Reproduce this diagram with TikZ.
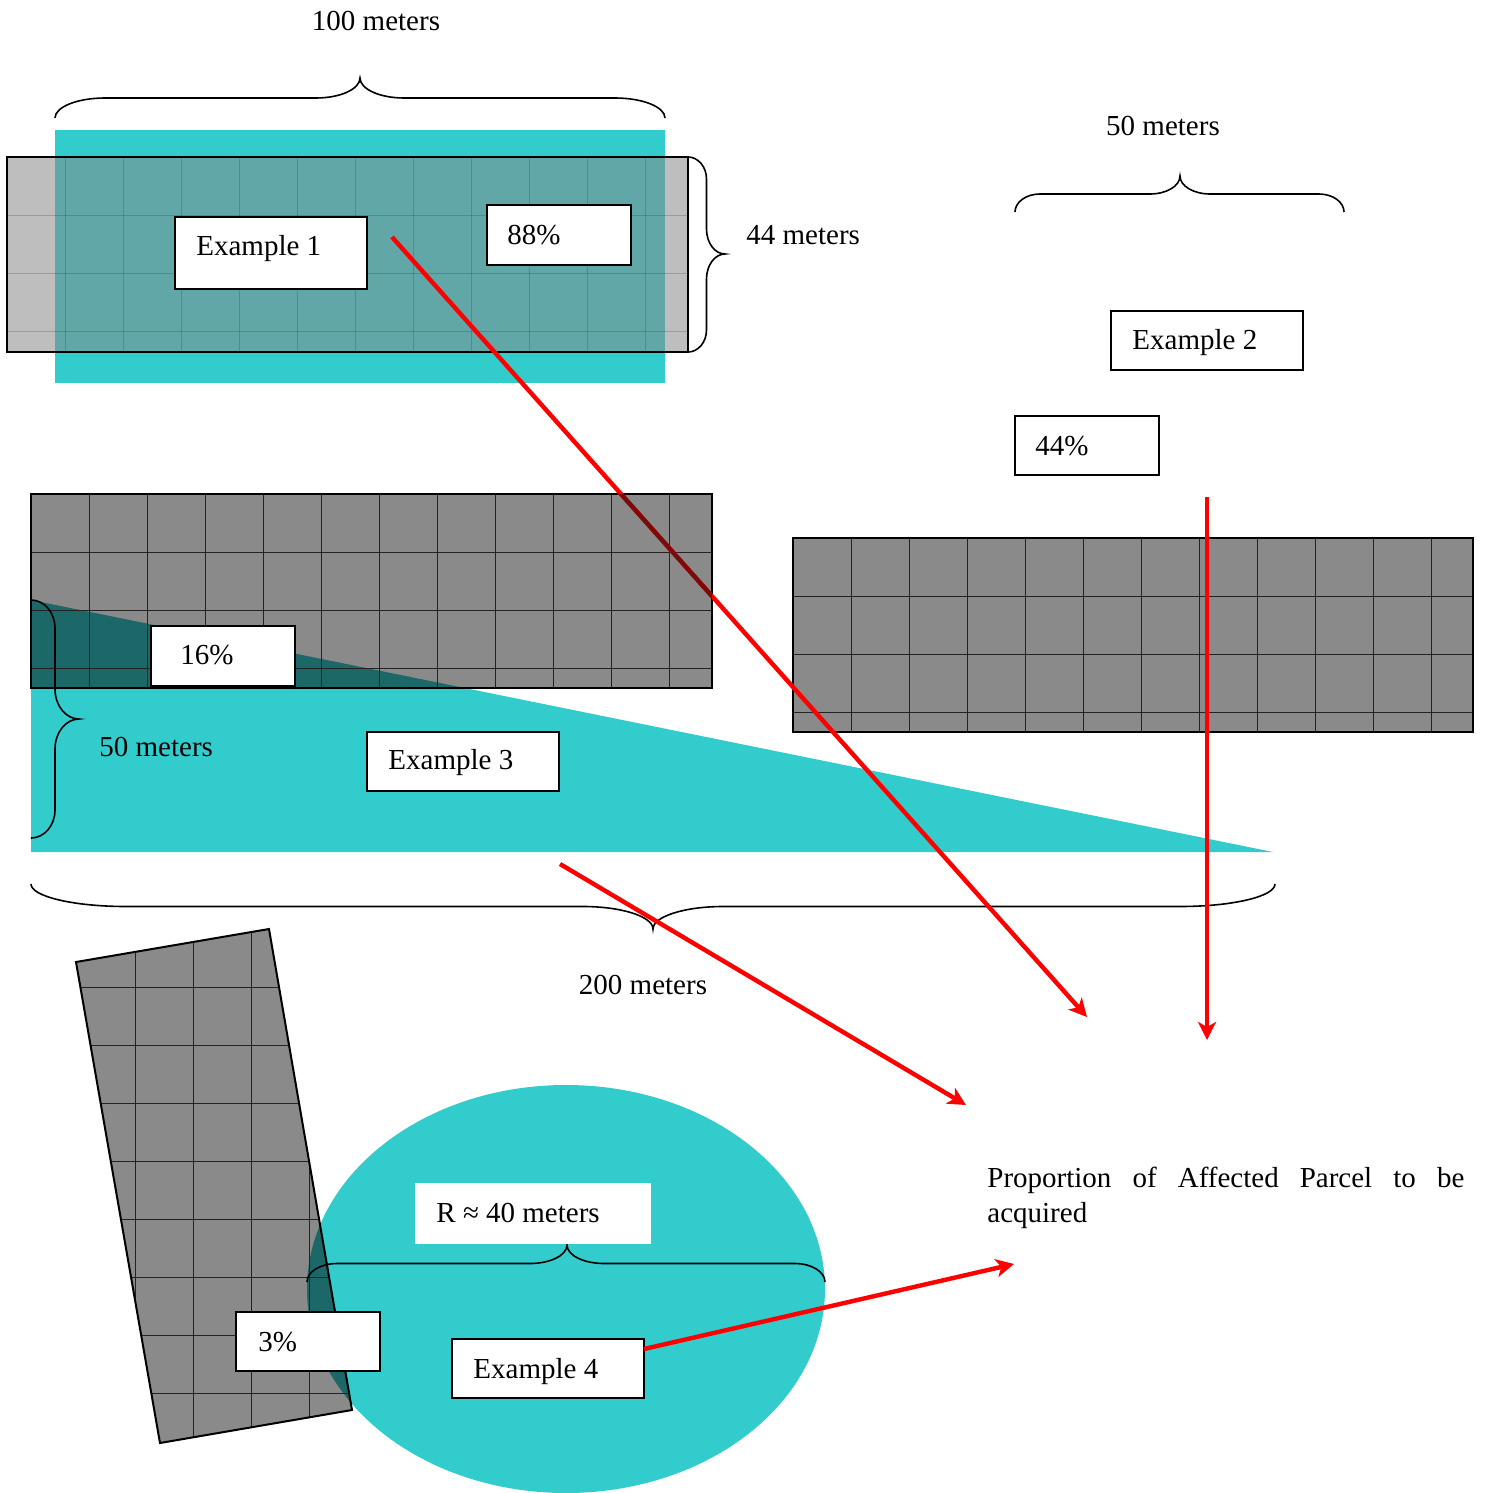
\documentclass[tikz,border=0pt]{standalone}
\usepackage{fontspec}
\setmainfont{Liberation Serif}
\usetikzlibrary{arrows.meta}
\definecolor{tealfill}{RGB}{51,204,204}
\definecolor{darkteal}{RGB}{28,104,104}
\definecolor{parcelgray}{RGB}{138,138,138}
\definecolor{gridc}{RGB}{35,35,35}
\definecolor{darkred}{RGB}{125,10,10}

\newcommand{\hbr}[7]{% x1, x2, y ends, y tip, x tip, end width, tip width
 \draw[bracel] (#1,#3) .. controls (#1,{#3+0.552*(#4-#3)/2}) and ({#1+0.448*#6},{(#3+#4)/2}) .. ({#1+#6},{(#3+#4)/2})
  -- ({#5-#7},{(#3+#4)/2}) .. controls ({#5-0.448*#7},{(#3+#4)/2}) and (#5,{#4-0.552*(#4-#3)/2}) .. (#5,#4)
  .. controls (#5,{#4-0.552*(#4-#3)/2}) and ({#5+0.448*#7},{(#3+#4)/2}) .. ({#5+#7},{(#3+#4)/2})
  -- ({#2-#6},{(#3+#4)/2}) .. controls ({#2-0.448*#6},{(#3+#4)/2}) and (#2,{#3+0.552*(#4-#3)/2}) .. (#2,#3);}
\newcommand{\vbr}[7]{% y1, y2, x ends, x tip, y tip, end width, tip width
 \draw[bracel] (#3,#1) .. controls ({#3+0.552*(#4-#3)/2},#1) and ({(#3+#4)/2},{#1+0.448*#6}) .. ({(#3+#4)/2},{#1+#6})
  -- ({(#3+#4)/2},{#5-#7}) .. controls ({(#3+#4)/2},{#5-0.448*#7}) and ({#4-0.552*(#4-#3)/2},#5) .. (#4,#5)
  .. controls ({#4-0.552*(#4-#3)/2},#5) and ({(#3+#4)/2},{#5+0.448*#7}) .. ({(#3+#4)/2},{#5+#7})
  -- ({(#3+#4)/2},{#2-#6}) .. controls ({(#3+#4)/2},{#2-0.448*#6}) and ({#3+0.552*(#4-#3)/2},#2) .. (#3,#2);}
\newcommand{\mkbox}[6][pbox]{\node[#1, minimum width={(#5-#3)*0.5pt}, minimum height={(#6-#4)*0.5pt}] (#2) at ({(#3+#5)/2},{(#4+#6)/2}) {};}

\begin{document}
\begin{tikzpicture}[x=0.5pt,y=-0.5pt,
  pbox/.style={draw=black, fill=white, line width=1.1pt, inner sep=0pt, outer sep=0pt},
  wbox/.style={fill=white, inner sep=0pt, outer sep=0pt},
  lbl/.style={inner sep=0pt, anchor=base west, font=\fontsize{14.5}{17.5}\selectfont},
  ctr/.style={inner sep=0pt, anchor=base, font=\fontsize{14.5}{17.5}\selectfont},
  gridl/.style={draw=gridc, line width=0.4pt},
  parcelb/.style={draw=black, line width=1pt},
  bracel/.style={draw=black, line width=0.8pt},
  redarrow/.style={draw=red, line width=2.2pt, -{Stealth[length=9pt,width=9pt,inset=2.5pt]}}]
\path[use as bounding box, fill=white] (0,0) rectangle (1488,1493);

% ---------- Example 1 ----------
\fill[tealfill] (55,130) rectangle (665,383);
\begin{scope}
  \clip (7,157) rectangle (688,352);
  \fill[parcelgray, fill opacity=0.55] (7,157) rectangle (688,352);
  \foreach \x in {65,123,...,645} \draw[gridl, draw opacity=0.22] (\x,157) -- (\x,352);
  \foreach \y in {215,273,331} \draw[gridl, draw opacity=0.22] (7,\y) -- (688,\y);
\end{scope}
\draw[parcelb] (7,157) rectangle (688,352);

% ---------- Example 2 ----------
\fill[parcelgray] (793,538) rectangle (1473,732);
\begin{scope}
  \clip (793,538) rectangle (1473,732);
  \foreach \x in {851,909,...,1431} \draw[gridl] (\x,538) -- (\x,732);
  \foreach \y in {596,654,712} \draw[gridl] (793,\y) -- (1473,\y);
\end{scope}
\draw[parcelb] (793,538) rectangle (1473,732);

% ---------- Example 3 ----------
\fill[tealfill] (31,600) -- (31,852) -- (1273,852) -- cycle;
\fill[parcelgray] (31,494) rectangle (712,688);
\begin{scope}
  \clip (31,494) rectangle (712,688);
  \fill[darkteal] (31,600) -- (31,852) -- (1273,852) -- cycle;
  \foreach \x in {89,147,...,671} \draw[gridl] (\x,494) -- (\x,688);
  \foreach \y in {552,610,668} \draw[gridl] (31,\y) -- (712,\y);
\end{scope}
\draw[parcelb] (31,494) rectangle (712,688);

% ---------- Example 4 ----------
\fill[tealfill] (566,1289) ellipse [x radius=129.5pt, y radius=102pt];
\fill[parcelgray] (76,962) -- (269,929) -- (352,1410) -- (160,1443) -- cycle;
\begin{scope}
  \clip (76,962) -- (269,929) -- (352,1410) -- (160,1443) -- cycle;
  \fill[darkteal] (566,1289) ellipse [x radius=129.5pt, y radius=102pt];
  \foreach \x in {135,193,251,309} \draw[gridl] (\x,900) -- (\x,1460);
  \foreach \y in {987,1045,...,1393} \draw[gridl] (60,\y) -- (370,\y);
\end{scope}
\draw[parcelb] (76,962) -- (269,929) -- (352,1410) -- (160,1443) -- cycle;

% ---------- braces ----------
\hbr{55}{665}{118}{78}{360}{50}{44}
\hbr{1015}{1344}{212}{176}{1180}{25}{30}
\hbr{31}{1275}{884}{929}{653}{95}{70}
\hbr{307}{825}{1282}{1245}{567}{30}{37}
\vbr{157}{352}{688}{725}{254}{22}{25}
\vbr{600}{838}{31}{79}{719}{28}{30}

% ---------- boxes ----------
\mkbox{b1}{175}{217}{367}{289}
\mkbox{p1}{487}{205}{631}{265}
\mkbox{b2}{1111}{311}{1303}{370}
\mkbox{p2}{1015}{416}{1159}{475}
\mkbox{p3}{151}{626}{295}{686}
\mkbox{b3}{367}{732}{559}{791}
\mkbox{p4}{236}{1312}{380}{1371}
\mkbox{b4}{452}{1339}{644}{1398}
\mkbox[wbox]{rbox}{415}{1183}{651}{1244}

% ---------- texts ----------
\node[lbl] (t1) at (196,255) {Example 1};
\node[lbl] (t88) at (507,244) {88\%};
\node[lbl] (t2) at (1132,349) {Example 2};
\node[lbl] (t44) at (1035,455) {44\%};
\node[lbl] (t16) at (180,664) {16\%};
\node[lbl] (t3) at (388,769) {Example 3};
\node[lbl] (t03) at (258,1351) {3\%};
\node[lbl] (t4) at (473,1378) {Example 4};
\node[lbl] (tr) at (436,1222) {R ≈ 40 meters};
\node[ctr] (m100) at (376,31) {100 meters};
\node[lbl] (m44) at (746,244) {44 meters};
\node[ctr] (m50a) at (1163,135) {50 meters};
\node[lbl] (m50b) at (99,756) {50 meters};
\node[ctr] (m200) at (643,994) {200 meters};
\node[anchor=base west, inner sep=0pt, font=\fontsize{14.5}{17.5}\selectfont] (prop) at (987,1187)
  {\parbox[t]{238.5pt}{\hyphenpenalty=10000 \exhyphenpenalty=10000 \tolerance=9999 Proportion of Affected Parcel to be acquired}};

% ---------- arrows ----------
\coordinate (a1s) at (392,237);
\coordinate (a1e) at (1087,1017);
\coordinate (a2s) at (1207,497);
\coordinate (a2e) at (1207,1040);
\coordinate (a3s) at (560,864);
\coordinate (a3e) at (966,1105);
\coordinate (a4s) at (644,1349);
\coordinate (a4e) at (1014,1264);
\draw[redarrow] (a1s) -- (a1e);
\begin{scope}
  \clip (31,494) rectangle (712,688);
  \draw[draw=darkred, line width=2.2pt] (a1s) -- (a1e);
\end{scope}
\draw[redarrow] (a2s) -- (a2e);
\draw[redarrow] (a3s) -- (a3e);
\draw[redarrow] (a4s) -- (a4e);
\end{tikzpicture}
\end{document}
